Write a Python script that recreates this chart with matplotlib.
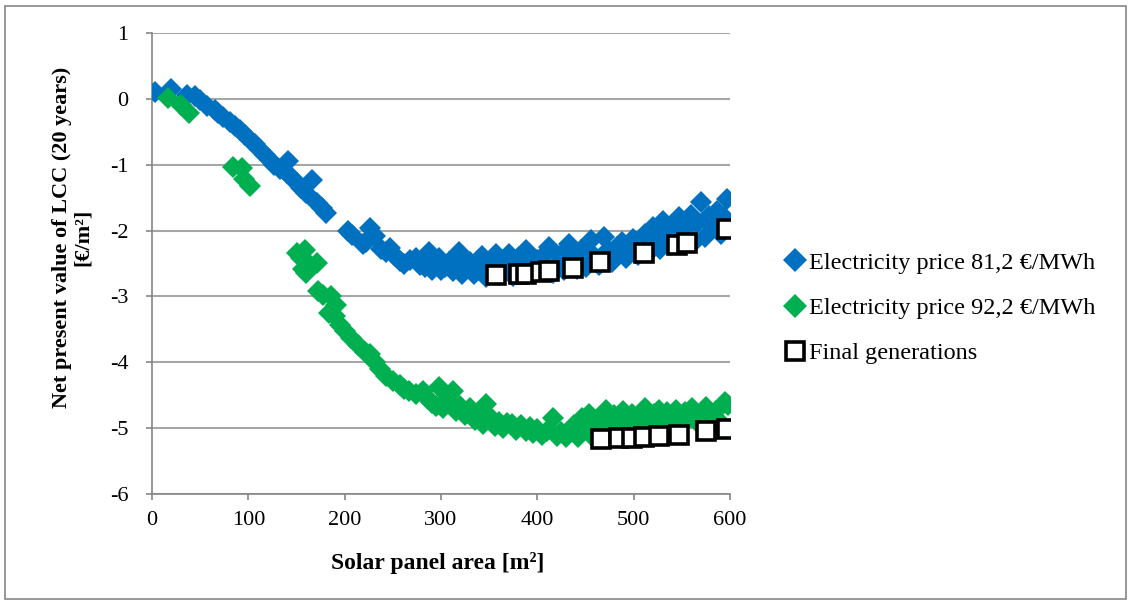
import matplotlib
matplotlib.use("Agg")
import matplotlib.pyplot as plt
from matplotlib.patches import Rectangle
from matplotlib.lines import Line2D

plt.rcParams['font.family'] = ['Liberation Serif', 'DejaVu Serif']
plt.rcParams['axes.unicode_minus'] = False

# electricity price 81,2 EUR/MWh
blue_x = [3, 20, 36, 45, 50, 57, 65, 68, 74, 81, 86, 91, 97, 102, 107, 112, 117, 122, 127, 133,
          140, 141, 145, 150, 155, 160, 166, 171, 176, 181,
          203, 208, 219, 222, 226, 232, 238, 243, 247, 252, 257, 262, 268, 274, 278, 283, 288, 291,
          294, 298, 300, 304, 308, 312, 316, 319, 322, 326, 330, 334, 338, 343, 347, 350, 354, 357,
          360, 364, 368, 371, 375, 378, 381, 385, 388, 392, 396, 400, 404, 408, 412, 416, 420, 424,
          428, 433, 437, 441, 445, 450, 456, 460, 464, 469, 473, 478, 483, 488, 492, 496, 499, 504,
          508, 512, 516, 520, 524, 527, 530, 535, 539, 543, 547, 551, 555, 559, 563, 566, 570, 574,
          578, 582, 587, 591, 594, 597, 598]
blue_y = [0.10, 0.15, 0.06, 0.04, -0.01, -0.11, -0.17, -0.22, -0.28, -0.35, -0.41, -0.47, -0.55, -0.62,
          -0.69, -0.77, -0.85, -0.93, -1.00, -1.07,
          -1.13, -0.95, -1.20, -1.28, -1.36, -1.43, -1.23, -1.58, -1.65, -1.73,
          -2.01, -2.06, -2.20, -2.17, -1.96, -2.08, -2.28, -2.32, -2.27, -2.38, -2.46, -2.50, -2.44,
          -2.42, -2.52, -2.56, -2.33, -2.60,
          -2.50, -2.42, -2.60, -2.55, -2.48, -2.62, -2.43, -2.33, -2.66, -2.56, -2.47, -2.66, -2.58,
          -2.38, -2.71, -2.62, -2.50, -2.35,
          -2.68, -2.58, -2.45, -2.36, -2.69, -2.60, -2.40, -2.66, -2.30, -2.55, -2.66, -2.45, -2.60,
          -2.35, -2.25, -2.64, -2.50, -2.38,
          -2.60, -2.20, -2.45, -2.58, -2.30, -2.55, -2.15, -2.40, -2.52, -2.10, -2.30, -2.47, -2.25,
          -2.18, -2.42, -2.30, -2.13, -2.37,
          -2.20, -2.05, -2.32, -1.95, -2.15, -2.28, -1.85, -2.02, -2.22, -1.92, -1.80, -2.08, -1.95,
          -1.77, -2.17, -1.88, -1.57, -2.10,
          -1.78, -1.95, -1.70, -2.05, -1.80, -1.52, -1.90]

# electricity price 92,2 EUR/MWh
green_x = [17, 30, 38, 84, 93, 96, 102,
           150, 155, 157, 159, 160, 163, 171, 172, 178, 184, 186, 190, 191, 195, 200, 207, 214, 221,
           226, 231, 237, 243, 250, 257, 262, 267, 274, 281, 286, 291, 295, 298, 302, 306, 312, 316,
           320, 325, 330, 335, 340, 344, 347, 352, 356, 360, 364, 369, 374, 378, 383, 388, 392, 396,
           400, 405, 410, 416, 420, 425, 430, 434, 438, 442, 446, 450, 454, 458, 462, 466, 471, 475,
           480, 484, 489, 494, 498, 503, 508, 512, 517, 521, 526, 530, 535, 540, 544, 549, 553, 558,
           561, 566, 571, 575, 580, 585, 590, 595, 598]
green_y = [0.02, -0.10, -0.22, -1.03, -1.05, -1.22, -1.32,
           -2.34, -2.42, -2.59, -2.29, -2.64, -2.50, -2.49, -2.92, -2.98, -3.25, -3.00, -3.30, -3.13,
           -3.43, -3.52, -3.63, -3.74, -3.85,
           -3.88, -3.99, -4.10, -4.21, -4.28, -4.34, -4.40, -4.44, -4.48, -4.43, -4.55, -4.62, -4.66,
           -4.38, -4.70, -4.58, -4.43, -4.74,
           -4.66, -4.80, -4.70, -4.88, -4.78, -4.93, -4.63, -4.85, -4.97, -4.90, -5.00, -4.92, -4.93,
           -5.03, -4.95, -5.05, -4.98, -5.08,
           -5.02, -5.10, -5.05, -4.84, -5.12, -5.06, -5.14, -5.05, -4.95, -5.13, -4.85, -5.00, -4.78,
           -5.14, -4.88, -5.05, -4.72, -4.95,
           -4.80, -5.04, -4.74, -4.90, -4.78, -5.00, -4.82, -4.70, -4.95, -4.78, -4.72, -4.90, -4.75,
           -4.85, -4.72, -4.96, -4.76, -4.82,
           -4.70, -4.90, -4.75, -4.68, -4.85, -4.74, -4.90, -4.60, -4.65]

# final generations of both runs
final_blue_x = [357, 381, 388, 404, 412, 437, 465, 511, 545, 555, 597]
final_blue_y = [-2.68, -2.66, -2.66, -2.63, -2.62, -2.57, -2.48, -2.34, -2.22, -2.19, -1.98]
final_green_x = [466, 485, 498, 511, 526, 547, 575, 597]
final_green_y = [-5.16, -5.15, -5.15, -5.13, -5.12, -5.10, -5.05, -5.01]

labels = ['Electricity price 81,2 €/MWh', 'Electricity price 92,2 €/MWh', 'Final generations']

BLUE = '#0070C0'
GREEN = '#00B050'
GRID = '#A6A6A6'
W, H = 1132, 604

fig = plt.figure(figsize=(W/100, H/100), dpi=100)
ax = fig.add_axes([152/W, 1 - 494/H, (730 - 152)/W, (494 - 33)/H])

ax.plot(blue_x, blue_y, 'D', color=BLUE, ms=10.8, mew=0, zorder=3)
ax.plot(green_x, green_y, 'D', color=GREEN, ms=10.8, mew=0, zorder=3)
ax.plot(final_blue_x + final_green_x, final_blue_y + final_green_y, 's', mfc='white',
        mec='black', ms=12.5, mew=2.6, zorder=4)

ax.set_xlim(0, 600)
ax.set_ylim(-6, 1)
ax.set_xticks(range(0, 601, 100))
ax.set_yticks(range(-6, 2))
ax.yaxis.grid(True, color=GRID, lw=1.5)
ax.set_axisbelow(True)
for s in ['top', 'right']:
    ax.spines[s].set_visible(False)
for s in ['left', 'bottom']:
    ax.spines[s].set_color('#868686')
    ax.spines[s].set_linewidth(1.2)
ax.tick_params(axis='both', colors='#868686', labelcolor='black', labelsize=16, length=4, width=1.2)
ax.tick_params(axis='y', pad=13)
ax.tick_params(axis='x', pad=8)

fig.text(438/W, 1 - 563/H, 'Solar panel area [m²]', fontsize=17, fontweight='bold',
         ha='center', va='center')
fig.text(72/W, 1 - 237/H, 'Net present value of LCC (20 years)\n[€/m²]', fontsize=16,
         fontweight='bold', ha='center', va='center', rotation=90, multialignment='center',
         linespacing=1.05)

handles = [
    Line2D([], [], ls='none', marker='D', color=BLUE, ms=12, mew=0),
    Line2D([], [], ls='none', marker='D', color=GREEN, ms=12, mew=0),
    Line2D([], [], ls='none', marker='s', mfc='white', mec='black', ms=12.5, mew=2.6),
]
fig.legend(handles, labels, loc='center left', bbox_to_anchor=(785/W, 1 - 308/H),
           frameon=False, fontsize=17.5, handlelength=0.8, handletextpad=0.2, labelspacing=0.95,
           borderpad=0, borderaxespad=0)

fig.patches.append(Rectangle((5/W, 5/H), 1121/W, 593/H, transform=fig.transFigure,
                             fill=False, ec='#868686', lw=1.2))

fig.savefig('out.png', dpi=100)
